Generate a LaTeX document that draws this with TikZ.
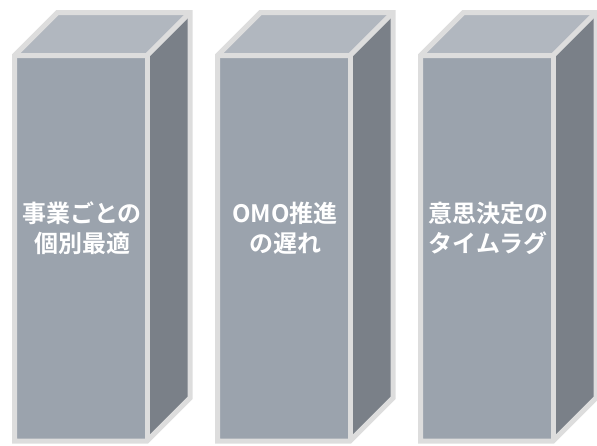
\documentclass[tikz,border=0pt]{standalone}
\usepackage{fontspec}
\newfontfamily\jp{Noto Sans CJK JP Bold}
\definecolor{frontc}{HTML}{9BA3AD}
\definecolor{topc}{HTML}{B1B7BF}
\definecolor{sidec}{HTML}{7A8088}
\definecolor{edgec}{HTML}{DDDDDD}
\tikzset{
  face/.style={draw=edgec,line width=5pt,line join=miter},
  label/.style={text=white,font=\jp\fontsize{24}{30}\selectfont,align=center,inner sep=0pt}
}
\begin{document}
\begin{tikzpicture}[x=1pt,y=-1pt]
\useasboundingbox (0,0) rectangle (597,445);
\foreach \i/\t in {0/{事業ごとの\\個別最適},1/{OMO推進\\の遅れ},2/{意思決定の\\タイムラグ}}{
  \begin{scope}[xshift=\i*203pt]
    \fill[frontc] (14.5,55.5) rectangle (147,441);
    \fill[topc] (14.5,55.5) -- (57.5,12.5) -- (190,12.5) -- (147,55.5) -- cycle;
    \fill[sidec] (147,55.5) -- (190,12.5) -- (190,398) -- (147,441) -- cycle;
    \draw[face] (14.5,55.5) -- (57.5,12.5) -- (190,12.5) -- (190,398) -- (147,441) -- (14.5,441) -- cycle;
    \draw[face] (14.5,55.5) -- (147,55.5) -- (190,12.5);
    \draw[face] (147,55.5) -- (147,441);
    \node[label] (t\i) at (82,228) {\t};
  \end{scope}
}
\end{tikzpicture}
\end{document}
